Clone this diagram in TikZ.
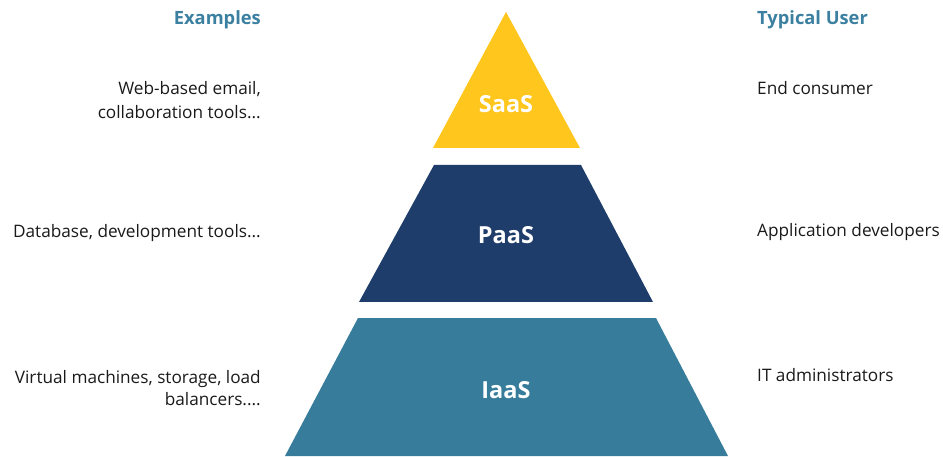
\documentclass[tikz,border=0pt]{standalone}
\usepackage{fontspec}
\setmainfont{Open Sans}
\definecolor{saasY}{HTML}{FFC61E}
\definecolor{paasN}{HTML}{1F3D6A}
\definecolor{iaasT}{HTML}{377D9B}
\definecolor{headT}{HTML}{3B80A0}
\definecolor{txt}{HTML}{1A1A1A}
\tikzset{
  lvl/.style={text=white, font=\fontsize{23.5}{28}\selectfont\bfseries, inner sep=0pt},
  head/.style={text=headT, font=\fontsize{18.3}{22}\selectfont\bfseries, inner sep=0pt},
  lefttxt/.style={text=txt, font=\fontsize{17.2}{24}\selectfont, align=right, anchor=east, inner sep=0pt},
  righttxt/.style={text=txt, font=\fontsize{17.2}{24}\selectfont, align=left, anchor=west, inner sep=0pt}
}
\begin{document}
\begin{tikzpicture}[x=1pt,y=-1pt]
\useasboundingbox (0,0) rectangle (943,457);
% layers
\fill[saasY] (506,12) -- (580,148) -- (433,148) -- cycle;
\fill[paasN] (434,165) -- (581,165) -- (653,302) -- (359,302) -- cycle;
\fill[iaasT] (358,318) -- (656,318) -- (728,456) -- (285,456) -- cycle;
% layer labels
\node[lvl] (saas) at (506,104) {SaaS};
\node[lvl] (paas) at (506,235) {PaaS};
\node[lvl] (iaas) at (506,390) {IaaS};
% headers
\node[head, anchor=east] (ex) at (261,20) {Examples};
\node[head, anchor=west] (tu) at (757,20) {Typical User};
% left texts
\node[lefttxt] (ex1) at (261,100) {Web-based email,\\collaboration tools...};
\node[lefttxt, font=\fontsize{17.2}{22}\selectfont] (ex3) at (261,388) {Virtual machines, storage, load\\balancers....};
\node[lefttxt] (ex2) at (261,233) {Database, development tools...};
% right texts
\node[righttxt] (u1) at (757,88) {End consumer};
\node[righttxt] (u2) at (757,232) {Application developers};
\node[righttxt] (u3) at (757,375) {IT administrators};
\end{tikzpicture}
\end{document}
